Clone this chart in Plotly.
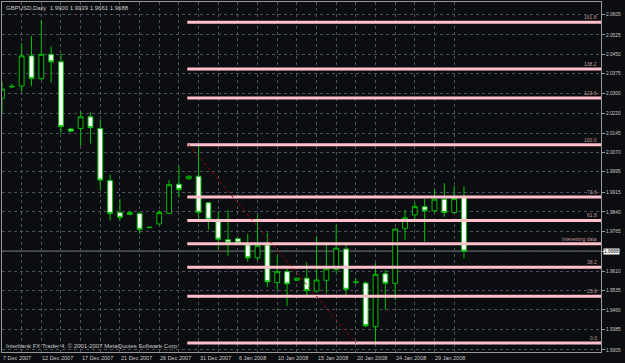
import plotly.graph_objects as go

# ---------------- data ----------------
dates = ["2007-12-07", "2007-12-09", "2007-12-10", "2007-12-11", "2007-12-12", "2007-12-13",
         "2007-12-14", "2007-12-16", "2007-12-17", "2007-12-18", "2007-12-19", "2007-12-20",
         "2007-12-21", "2007-12-23", "2007-12-24", "2007-12-25", "2007-12-26", "2007-12-27",
         "2007-12-28", "2007-12-30", "2007-12-31", "2008-01-02", "2008-01-03", "2008-01-04",
         "2008-01-06", "2008-01-07", "2008-01-08", "2008-01-09", "2008-01-10", "2008-01-11",
         "2008-01-13", "2008-01-14", "2008-01-15", "2008-01-16", "2008-01-17", "2008-01-18",
         "2008-01-20", "2008-01-21", "2008-01-22", "2008-01-23", "2008-01-24", "2008-01-25",
         "2008-01-27", "2008-01-28", "2008-01-29", "2008-01-30", "2008-01-31", "2008-02-01"]

opens = [2.0280, 2.0324, 2.0327, 2.0444, 2.0356, 2.0450, 2.0421, 2.0161, 2.0163, 2.0208,
         2.0163, 1.9961, 1.9837, 1.9830, 1.9834, 1.9779, 1.9793, 1.9834, 1.9947, 1.9968,
         1.9978, 1.9875, 1.9811, 1.9732, 1.9736, 1.9712, 1.9662, 1.9712, 1.9566, 1.9608,
         1.9575, 1.9583, 1.9533, 1.9575, 1.9617, 1.9696, 1.9566, 1.9564, 1.9395, 1.9600,
         1.9563, 1.9776, 1.9828, 1.9860, 1.9844, 1.9889, 1.9837, 1.9900]
highs = [2.0344, 2.0335, 2.0493, 2.0521, 2.0583, 2.0482, 2.0454, 2.0166, 2.0228, 2.0224,
         2.0198, 1.9983, 1.9890, 1.9843, 1.9839, 1.9782, 1.9847, 1.9963, 2.0018, 1.9980,
         2.0100, 1.9878, 1.9841, 1.9847, 1.9740, 1.9754, 1.9828, 1.9759, 1.9673, 1.9621,
         1.9585, 1.9645, 1.9744, 1.9712, 1.9789, 1.9718, 1.9583, 1.9570, 1.9641, 1.9615,
         1.9776, 1.9847, 1.9877, 1.9890, 1.9928, 1.9951, 1.9941, 1.9939]
lows = [2.0222, 2.0320, 2.0305, 2.0327, 2.0350, 2.0340, 2.0144, 2.0149, 2.0096, 2.0105,
        1.9925, 1.9806, 1.9806, 1.9827, 1.9753, 1.9777, 1.9790, 1.9834, 1.9896, 1.9965,
        1.9808, 1.9770, 1.9695, 1.9670, 1.9716, 1.9647, 1.9653, 1.9548, 1.9537, 1.9475,
        1.9573, 1.9518, 1.9533, 1.9524, 1.9602, 1.9518, 1.9561, 1.9393, 1.9332, 1.9460,
        1.9498, 1.9731, 1.9810, 1.9724, 1.9835, 1.9821, 1.9834, 1.9661]
closes = [2.0315, 2.0326, 2.0444, 2.0356, 2.0450, 2.0421, 2.0170, 2.0152, 2.0208, 2.0166,
          1.9963, 1.9834, 1.9819, 1.9837, 1.9772, 1.9780, 1.9837, 1.9945, 1.9927, 1.9978,
          1.9838, 1.9811, 1.9734, 1.9720, 1.9720, 1.9662, 1.9709, 1.9569, 1.9608, 1.9561,
          1.9583, 1.9535, 1.9576, 1.9619, 1.9699, 1.9540, 1.9568, 1.9399, 1.9598, 1.9563,
          1.9773, 1.9817, 1.9860, 1.9844, 1.9889, 1.9837, 1.9891, 1.9688]

date_label_bars = ["2007-12-07", "2007-12-12", "2007-12-17", "2007-12-21", "2007-12-26",
                   "2007-12-31", "2008-01-06", "2008-01-10", "2008-01-15", "2008-01-20",
                   "2008-01-24", "2008-01-29"]
date_labels = ["7 Dec 2007", "12 Dec 2007", "17 Dec 2007", "21 Dec 2007", "26 Dec 2007",
               "31 Dec 2007", "6 Jan 2008", "10 Jan 2008", "15 Jan 2008", "20 Jan 2008",
               "24 Jan 2008", "29 Jan 2008"]

price_ticks = [2.0605, 2.0525, 2.0450, 2.0375, 2.0300, 2.0220, 2.0145, 2.0070, 1.9995,
               1.9915, 1.9840, 1.9765, 1.9687, 1.9610, 1.9535, 1.9460, 1.9385, 1.9305]
price_tick_labels = ["2.0605", "2.0525", "2.0450", "2.0375", "2.0300", "2.0220", "2.0145",
                     "2.0070", "1.9995", "1.9915", "1.9840", "1.9765", "", "1.9610",
                     "1.9535", "1.9460", "1.9385", "1.9305"]

fib_anchor_bars = [19, 36]
fib_anchor_prices = [2.0100, 1.9332]
fib_ratios = [0.0, 0.236, 0.382, 0.5, 0.618, 0.736, 1.0, 1.236, 1.382, 1.618]
fib_labels = ["0.0", "23.6", "38.2", "Interesting data", "61.8", "73.6", "100.0",
              "123.6", "138.2", "161.8"]

bid_price = 1.9688
title_text = "GBPUSD,Daily  1.9900 1.9939 1.9661 1.9688"
footer_text = "Interbank FX Trader 4, \u00a9 2001-2007 MetaQuotes Software Corp."

# ---------------- figure ----------------
BG = "#0c0d10"
GREEN = "#00c000"
GRID = "#4a525c"
TXT = "#c8c8c8"
FONT = "Liberation Sans"
X_MAX = 60.94
Y_RANGE = [1.92971, 2.06527]

fig = go.Figure()
fig.add_trace(go.Candlestick(
    x=dates, open=opens, high=highs, low=lows, close=closes,
    increasing=dict(line=dict(color=GREEN, width=1), fillcolor="#000000"),
    decreasing=dict(line=dict(color=GREEN, width=1), fillcolor="#ffffff"),
    hoverinfo="skip", showlegend=False,
))

shapes = []
lo, hi = fib_anchor_prices[1], fib_anchor_prices[0]
for r in fib_ratios:
    lvl = lo + r * (hi - lo)
    shapes.append(dict(type="line", xref="x", yref="y", x0=fib_anchor_bars[0] - 0.15,
                       x1=X_MAX, y0=lvl, y1=lvl,
                       line=dict(color="#ffc0cb", width=3), layer="above"))
shapes.append(dict(type="line", xref="x", yref="y",
                   x0=fib_anchor_bars[0], y0=fib_anchor_prices[0],
                   x1=fib_anchor_bars[1], y1=fib_anchor_prices[1],
                   line=dict(color="#9a0000", width=1, dash="dot"), layer="above"))
shapes.append(dict(type="line", xref="paper", yref="y", x0=0, x1=1, y0=bid_price,
                   y1=bid_price, line=dict(color="#7a7a7a", width=1), layer="below"))

annotations = []
for r, lab in zip(fib_ratios, fib_labels):
    lvl = lo + r * (hi - lo)
    annotations.append(dict(xref="paper", yref="y", x=1, y=lvl, text=lab, showarrow=False,
                            xanchor="right", yanchor="bottom", xshift=-2, yshift=0,
                            font=dict(family=FONT, size=5, color="#c09a9a")))
for d, lab in zip(date_label_bars, date_labels):
    annotations.append(dict(xref="x", yref="paper", x=d, y=0, text=lab, showarrow=False,
                            xanchor="left", yanchor="top", xshift=-1, yshift=-1,
                            font=dict(family=FONT, size=5.5, color=TXT)))
annotations.append(dict(xref="paper", yref="y", x=1, y=bid_price, text=f"{bid_price:.4f}",
                        showarrow=False, xanchor="left", yanchor="middle", xshift=2,
                        bgcolor="#ffffff", borderpad=0,
                        font=dict(family=FONT, size=4.8, color="#000000")))
annotations.append(dict(xref="paper", yref="paper", x=0, y=1, text=title_text,
                        showarrow=False, xanchor="left", yanchor="top", xshift=2, yshift=-1,
                        font=dict(family=FONT, size=6, color=TXT)))
annotations.append(dict(xref="paper", yref="paper", x=0, y=0, text=footer_text,
                        showarrow=False, xanchor="left", yanchor="bottom", xshift=2, yshift=1,
                        font=dict(family=FONT, size=6, color=TXT)))

fig.update_layout(
    width=625, height=363,
    margin=dict(l=2, r=24, t=2, b=11),
    paper_bgcolor=BG, plot_bgcolor=BG,
    shapes=shapes, annotations=annotations,
    showlegend=False,
    xaxis=dict(type="category", range=[0, X_MAX], rangeslider=dict(visible=False),
               tickvals=dates[::2], showticklabels=False, ticks="",
               showgrid=True, gridcolor=GRID, griddash="3px,3px", gridwidth=1,
               showline=True, linecolor="#9a9a9a", linewidth=1, mirror=True,
               zeroline=False, fixedrange=True),
    yaxis=dict(side="right", range=Y_RANGE, tickvals=price_ticks, ticktext=price_tick_labels,
               ticks="outside", ticklen=3, tickcolor="#9a9a9a",
               tickfont=dict(family=FONT, size=4.8, color=TXT),
               showgrid=True, gridcolor=GRID, griddash="3px,3px", gridwidth=1,
               showline=True, linecolor="#9a9a9a", linewidth=1, mirror=True,
               zeroline=False, fixedrange=True),
)

fig.write_html("out.html")
